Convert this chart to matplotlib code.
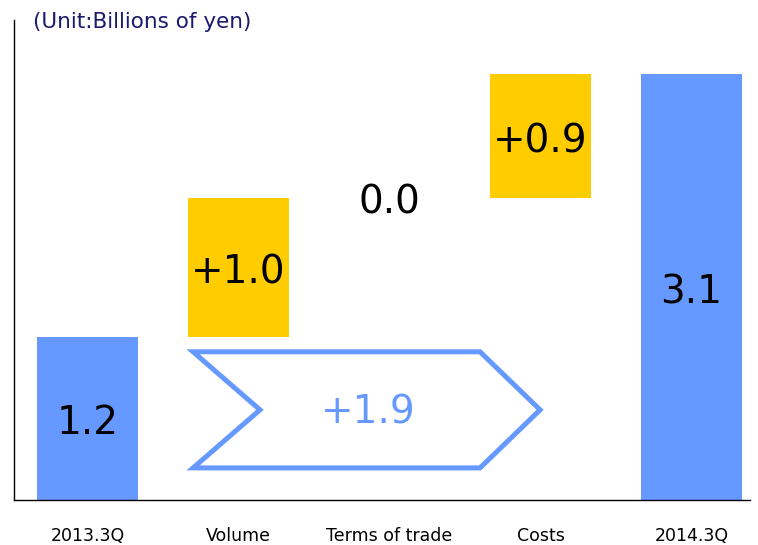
import matplotlib
matplotlib.use("Agg")
import matplotlib.pyplot as plt
from matplotlib.patches import Polygon

categories = ["2013.3Q", "Volume", "Terms of trade", "Costs", "2014.3Q"]
start_value = 1.2
changes = [1.02, 0.0, 0.91]
end_value = 3.13
labels = ["1.2", "+1.0", "0.0", "+0.9", "3.1"]

BLUE = "#6699FF"
GOLD = "#FFCC00"

plt.rcParams['font.family'] = ['DejaVu Sans']
fig = plt.figure(figsize=(7.58, 5.45), dpi=100)
ax = fig.add_axes([14/758, 45/545, 736/758, 480/545])

x = list(range(len(categories)))
bottoms = [0]
heights = [start_value]
cum = start_value
for c in changes:
    bottoms.append(cum)
    heights.append(c)
    cum += c
bottoms.append(0)
heights.append(end_value)
colors = [BLUE, GOLD, GOLD, GOLD, BLUE]

w = 0.67
ax.bar(x, heights, bottom=bottoms, width=w, color=colors, edgecolor='none')

for xi, b, h, lab in zip(x, bottoms, heights, labels):
    ax.annotate(lab, (xi, b + h / 2), xytext=(0, -3.5), textcoords='offset points',
                ha='center', va='center', fontsize=28, color='black')

# chevron summarising total change
total = end_value - start_value
ytop, ybot = 1.09, 0.236
ymid = (ytop + ybot) / 2
xl, xn, xr0, xr = 0.699, 1.142, 2.599, 2.997
chev = Polygon([(xl, ytop), (xr0, ytop), (xr, ymid), (xr0, ybot), (xl, ybot), (xn, ymid)],
               closed=True, facecolor='white', edgecolor=BLUE, linewidth=3.6, joinstyle='miter')
ax.add_patch(chev)
ax.annotate(f"+{total:.1f}", (1.858, ymid), xytext=(0, -2), textcoords='offset points',
            ha='center', va='center', fontsize=28, color=BLUE)

ax.set_xlim(-0.487, 4.387)
ax.set_ylim(0, 3.53)
ax.set_xticks(x)
ax.set_xticklabels(categories, fontsize=12.5)
ax.tick_params(axis='x', length=0, pad=19.5)
ax.set_yticks([])
ax.spines['top'].set_visible(False)
ax.spines['right'].set_visible(False)
ax.spines['left'].set_linewidth(1.0)
ax.spines['bottom'].set_linewidth(1.0)

fig.text(33/758, 1 - 22/545, "(Unit:Billions of yen)", ha='left', va='center', fontsize=15.5, color='#1a1a6e')

fig.savefig("out.png", dpi=100)
